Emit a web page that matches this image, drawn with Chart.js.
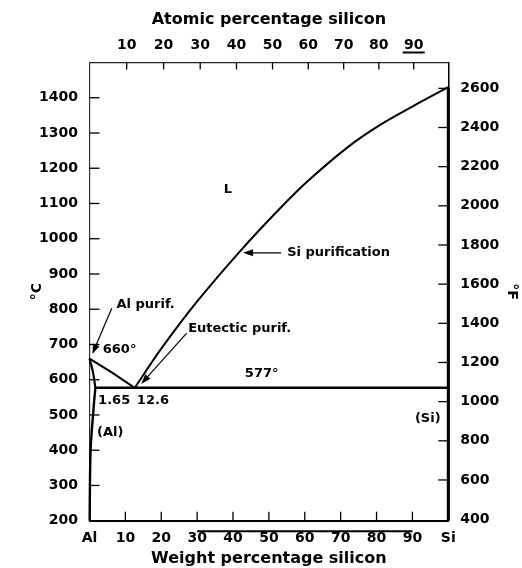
<!DOCTYPE html>
<html><head><meta charset="utf-8">
<script src="https://cdn.jsdelivr.net/npm/chart.js@4/dist/chart.umd.min.js"></script>
<style>html,body{margin:0;padding:0;background:#fff}#wrap{width:522px;height:568px}</style>
</head><body><div id="wrap"><canvas id="c" width="522" height="568"></canvas></div>
<script>
// ---- axis ticks ----
const weightTicks = [0, 10, 20, 30, 40, 50, 60, 70, 80, 90, 100];
const weightLabels = ['Al', '10', '20', '30', '40', '50', '60', '70', '80', '90', 'Si'];
const atomicTicks = [10, 20, 30, 40, 50, 60, 70, 80, 90];
const celsiusTicks = [200, 300, 400, 500, 600, 700, 800, 900, 1000, 1100, 1200, 1300, 1400];
const fahrenheitTicks = [400, 600, 800, 1000, 1200, 1400, 1600, 1800, 2000, 2200, 2400, 2600];

// ---- phase boundaries (wt% Si, °C) ----
const liquidusAlWt = [0, 6.3, 12.6];
const liquidusAlT  = [660, 620, 577];
const liquidusSiWt = [12.6, 20, 30, 42, 53, 61, 72, 81, 90, 100];
const liquidusSiT  = [577, 688, 822, 965, 1085, 1165, 1260, 1323, 1375, 1430];
const solidusWt = [0, 0.9, 1.65];
const solidusT  = [660, 625, 577];
const solvusWt = [1.65, 1.3, 1.0, 0.6, 0.3, 0.12, 0.05];
const solvusT  = [577, 540, 500, 450, 400, 300, 200];
const eutecticWt = [1.65, 100];
const eutecticT  = [577, 577];
const siPhaseWt = [100, 100];
const siPhaseT  = [1430, 200];

// ---- labels & arrows (data coordinates) ----
const noteText = ['L', 'Si purification', 'Al purif.', '660°', 'Eutectic purif.', '577°', '1.65', '12.6', '(Al)', '(Si)'];
const noteWt   = [38.6, 55.1, 7.5, 3.7, 27.5, 43.3, 2.4, 13.2, 2.1, 90.7];
const noteT    = [1139, 960, 812, 684, 746, 616, 542, 542, 450, 489];
const arrowFromWt = [53.4, 6.2, 27.1];
const arrowFromT  = [960, 803, 732];
const arrowToWt   = [42.8, 0.8, 14.4];
const arrowToT    = [960, 673, 588];

const M_AL = 26.98, M_SI = 28.09;
const atToWt = a => 100 * a * M_SI / (a * M_SI + (100 - a) * M_AL);
const cToF = c => c * 1.8 + 32;
const C_MIN = 200, C_MAX = 1500;
const FONT = '"DejaVu Sans", sans-serif';
const tickFont = {family: FONT, size: 14, weight: 'bold'};
const titleFont = {family: FONT, size: 16, weight: 'bold'};

const pts = (xs, ys) => xs.map((x, i) => ({x, y: ys[i]}));
const line = (xs, ys, w, tension) => ({
  data: pts(xs, ys), showLine: true, borderColor: '#000', borderWidth: w,
  pointRadius: 0, tension: tension || 0, clip: false, fill: false
});

const decorations = {
  id: 'decorations',
  afterDatasetsDraw(chart) {
    const ctx = chart.ctx, a = chart.chartArea, s = chart.scales;
    ctx.save();
    ctx.strokeStyle = '#000'; ctx.fillStyle = '#000'; ctx.lineWidth = 1.3;
    const seg = (x1, y1, x2, y2) => { ctx.beginPath(); ctx.moveTo(x1, y1); ctx.lineTo(x2, y2); ctx.stroke(); };
    // inward tick marks
    s.x.ticks.forEach(t => { if (t.value <= 0 || t.value >= 100) return; const p = s.x.getPixelForValue(t.value); seg(p, a.bottom, p, a.bottom - 9); });
    s.x2.ticks.forEach(t => { const p = s.x2.getPixelForValue(t.value); seg(p, a.top, p, a.top + 7); });
    s.y.ticks.forEach(t => { if (t.value <= C_MIN) return; const p = s.y.getPixelForValue(t.value); seg(a.left, p, a.left + 10, p); });
    s.y2.ticks.forEach(t => { if (t.value <= 400) return; const p = s.y2.getPixelForValue(t.value); seg(a.right, p, a.right - 10, p); });
    // arrows
    ctx.lineWidth = 1.2;
    arrowFromWt.forEach((w, i) => {
      const x1 = s.x.getPixelForValue(w), y1 = s.y.getPixelForValue(arrowFromT[i]);
      const x2 = s.x.getPixelForValue(arrowToWt[i]), y2 = s.y.getPixelForValue(arrowToT[i]);
      const ang = Math.atan2(y2 - y1, x2 - x1), L = 10, W = 3.5;
      seg(x1, y1, x2 - Math.cos(ang) * 4, y2 - Math.sin(ang) * 4);
      ctx.beginPath();
      ctx.moveTo(x2, y2);
      ctx.lineTo(x2 - L * Math.cos(ang) + W * Math.sin(ang), y2 - L * Math.sin(ang) - W * Math.cos(ang));
      ctx.lineTo(x2 - L * Math.cos(ang) - W * Math.sin(ang), y2 - L * Math.sin(ang) + W * Math.cos(ang));
      ctx.closePath(); ctx.fill();
    });
    // text notes
    ctx.font = 'bold 13px ' + FONT;
    ctx.textBaseline = 'middle';
    noteText.forEach((t, i) => {
      ctx.textAlign = t === 'L' ? 'center' : 'left';
      ctx.fillText(t, s.x.getPixelForValue(noteWt[i]), s.y.getPixelForValue(noteT[i]));
    });
    // print marks seen on the original scan
    ctx.lineWidth = 2;
    const u = s.x2.getPixelForValue(atToWt(90));
    seg(u - 11, a.top - 10, u + 11, a.top - 10);
    seg(s.x.getPixelForValue(30), a.bottom + 10.5, s.x.getPixelForValue(90), a.bottom + 10.5);
    ctx.restore();
  }
};

new Chart(document.getElementById('c'), {
  type: 'scatter',
  data: {
    datasets: [
      line(liquidusAlWt, liquidusAlT, 2),
      line(liquidusSiWt, liquidusSiT, 2, 0.3),
      line(solidusWt, solidusT, 2.2, 0.4),
      line(solvusWt, solvusT, 2.4, 0.4),
      line(eutecticWt, eutecticT, 2.4),
      line(siPhaseWt, siPhaseT, 3)
    ]
  },
  options: {
    responsive: false,
    animation: false,
    devicePixelRatio: 1,
    layout: {padding: 0},
    plugins: {legend: {display: false}, tooltip: {enabled: false}},
    scales: {
      x: {
        type: 'linear', position: 'bottom', min: 0, max: 100,
        afterBuildTicks: sc => { sc.ticks = weightTicks.map(v => ({value: v})); },
        afterFit: sc => { sc.height = 47.3; },
        ticks: {callback: (v, i) => weightLabels[i], font: tickFont, color: '#000', padding: 9, maxRotation: 0, autoSkip: false},
        grid: {display: false, drawTicks: false},
        border: {display: true, color: '#000', width: 2},
        title: {display: true, text: 'Weight percentage silicon', font: titleFont, color: '#000', padding: {top: 0.4, bottom: 0}}
      },
      x2: {
        type: 'linear', position: 'top', min: 0, max: 100,
        afterBuildTicks: sc => { sc.ticks = atomicTicks.map(a => ({value: atToWt(a)})); },
        afterFit: sc => { sc.height = 62.5; },
        ticks: {callback: (v, i) => String(atomicTicks[i]), font: tickFont, color: '#000', padding: 9, maxRotation: 0, autoSkip: false},
        grid: {display: false, drawTicks: false},
        border: {display: true, color: '#222', width: 1.2},
        title: {display: true, text: 'Atomic percentage silicon', font: titleFont, color: '#000', padding: {top: 10.4, bottom: 0}}
      },
      y: {
        type: 'linear', position: 'left', min: C_MIN, max: C_MAX,
        afterBuildTicks: sc => { sc.ticks = celsiusTicks.map(v => ({value: v})); },
        afterFit: sc => { sc.width = 89.5; },
        ticks: {callback: v => String(v), font: tickFont, color: '#000', padding: 11.5, autoSkip: false},
        grid: {display: false, drawTicks: false},
        border: {display: true, color: '#333', width: 1.2},
        title: {display: true, text: '°C', font: {family: FONT, size: 14, weight: 'bold'}, color: '#000', padding: {top: 28.6, bottom: 0}}
      },
      y2: {
        type: 'linear', position: 'right', min: cToF(C_MIN), max: cToF(C_MAX),
        afterBuildTicks: sc => { sc.ticks = fahrenheitTicks.map(v => ({value: v})); },
        afterFit: sc => { sc.width = 73.7; },
        ticks: {callback: v => String(v), font: tickFont, color: '#000', padding: 12, autoSkip: false},
        grid: {display: false, drawTicks: false},
        border: {display: true, color: '#000', width: 1.5},
        title: {display: true, text: '°F', font: {family: FONT, size: 14, weight: 'bold'}, color: '#000', padding: {top: 1.6, bottom: 0}}
      }
    }
  },
  plugins: [decorations]
});
</script></body></html>
